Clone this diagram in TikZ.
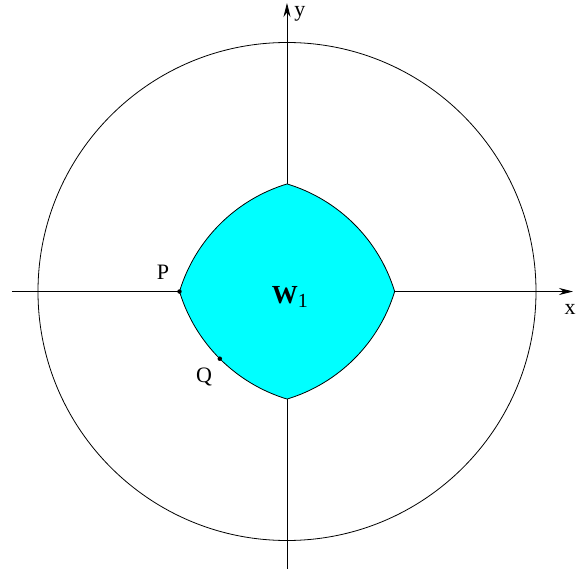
\documentclass[tikz,border=0pt]{standalone}
\usepackage{fontspec}
\setmainfont{Liberation Serif}
\usepackage{tikz}
\usetikzlibrary{arrows.meta}
\definecolor{wcyan}{RGB}{0,255,255}

\tikzset{
  axis/.style={line width=0.8pt,-{Stealth[length=14pt,width=7pt]}},
  dotpt/.style={circle,fill=black,inner sep=0pt,minimum size=4.5pt},
  lbl/.style={font=\fontsize{22}{22}\selectfont}
}

\begin{document}
\begin{tikzpicture}[x=1pt,y=1pt]
\useasboundingbox (-287,-279.5) rectangle (297,291.5);
% outer circle
\draw[line width=0.8pt] (0,0) circle (249);
% axes
\coordinate (xl) at (-275,0);
\coordinate (xr) at (286,0);
\coordinate (yb) at (0,-277);
\coordinate (yt) at (0,288.5);
\draw[axis] (xl) -- (xr);
\draw[axis] (yb) -- (yt);
\node[lbl] (xlab) at (283,-17.5) {x};
\node[lbl] (ylab) at (13,277.5) {y};
% region W_1
\draw[line width=0.8pt,fill=wcyan] (-107.5,0)
  arc[start angle=163.1,end angle=106.9,radius=161.5]
  arc[start angle=73.1,end angle=16.9,radius=161.5]
  arc[start angle=-16.9,end angle=-73.1,radius=161.5]
  arc[start angle=-106.9,end angle=-163.1,radius=161.5] -- cycle;
\node[lbl] (w) at (3,-5.5) {\fontsize{26}{26}\selectfont\textbf{W}\raisebox{-0.4ex}{\fontsize{20}{20}\selectfont 1}};
% points
\node[dotpt] (p) at (-107.5,0) {};
\node[dotpt] (q) at (-67.2,-67.2) {};
\node[lbl] (plab) at (-124,19.5) {P};
\node[lbl] (qlab) at (-83,-85.5) {Q};
\end{tikzpicture}
\end{document}
